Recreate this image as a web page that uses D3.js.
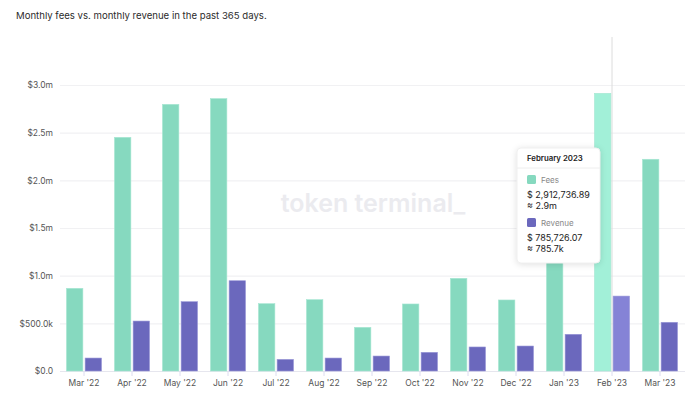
<!DOCTYPE html>
<head>
    <meta charset="utf-8">
    <title>Monthly fees vs. monthly revenue</title>
    <style>
        body { margin: 0; background: #fff; }
        svg text { font-family: Inter, "Noto Sans", sans-serif; }
        .tick text { fill: #555; font-size: 8.5px; }
    </style>
</head>
<body>
<svg width="700" height="395"></svg>

<script src="https://d3js.org/d3.v7.min.js"></script>
<script>

    var months = ["Mar '22", "Apr '22", "May '22", "Jun '22", "Jul '22", "Aug '22", "Sep '22",
        "Oct '22", "Nov '22", "Dec '22", "Jan '23", "Feb '23", "Mar '23"];
    var fees = [867000, 2451000, 2797000, 2857000, 706000, 748000, 458000,
        703000, 972000, 745000, 1300000, 2912736.89, 2221000];
    var revenue = [136000, 524000, 727000, 947000, 122000, 136000, 157000,
        196000, 252000, 262000, 385000, 785726.07, 511000];
    var yTicks = [0, 500000, 1000000, 1500000, 2000000, 2500000, 3000000];
    var yTickLabels = ["$0.0", "$500.0k", "$1.0m", "$1.5m", "$2.0m", "$2.5m", "$3.0m"];
    var series = ["fees", "revenue"];
    var hovered = "Feb '23";

    var svg = d3.select("svg");

    var data = months.map(function (m, i) {
        return {month: m, fees: fees[i], revenue: revenue[i]};
    });

    var x0 = d3.scaleBand()
        .domain(months)
        .range([60, 684])
        .paddingInner(0.27)
        .paddingOuter(0.135);

    var x1 = d3.scaleBand()
        .domain(series)
        .range([0, x0.bandwidth()])
        .paddingInner(0.12);

    var y = d3.scaleLinear()
        .domain([0, 3000000])
        .range([371, 85]);

    var color = {fees: "#86d9bf", revenue: "#6b68bd"};
    var hoverColor = {fees: "#a2f0d8", revenue: "#8583d6"};
    var strokeColor = {fees: "#a6e6d2", revenue: "#9a98d8"};

    // title
    svg.append("text")
        .attr("x", 16)
        .attr("y", 19)
        .attr("fill", "#2b2b2b")
        .attr("font-size", "9.6px")
        .text("Monthly fees vs. monthly revenue in the past 365 days.");

    // watermark
    svg.append("text")
        .attr("x", 373)
        .attr("y", 212)
        .attr("text-anchor", "middle")
        .attr("fill", "#ebebef")
        .attr("font-size", "25px")
        .attr("font-weight", "600")
        .text("token terminal_");

    // grid + y axis
    var yAxis = svg.append("g")
        .attr("transform", "translate(60,0)")
        .call(d3.axisLeft(y)
            .tickValues(yTicks)
            .tickSize(-625)
            .tickPadding(7)
            .tickFormat(function (d, i) { return yTickLabels[i]; }));
    yAxis.select(".domain").remove();
    yAxis.selectAll(".tick line")
        .attr("stroke", function (d) { return d === 0 ? "#e6e6ee" : "#f1f1f3"; })
        .attr("stroke-width", 1.2);

    // hover line
    svg.append("line")
        .attr("x1", x0(hovered) + x0.bandwidth() / 2)
        .attr("x2", x0(hovered) + x0.bandwidth() / 2)
        .attr("y1", 37)
        .attr("y2", 371)
        .attr("stroke", "#dcdcdc")
        .attr("stroke-width", 1);

    // bars
    var groups = svg.append("g")
        .selectAll("g")
        .data(data)
        .enter().append("g")
        .attr("transform", function (d) { return "translate(" + x0(d.month) + ",0)"; });

    groups.selectAll("rect")
        .data(function (d) {
            return series.map(function (s) { return {key: s, value: d[s], month: d.month}; });
        })
        .enter().append("rect")
        .attr("x", function (d) { return x1(d.key); })
        .attr("width", x1.bandwidth())
        .attr("y", function (d) { return y(d.value); })
        .attr("height", function (d) { return y(0) - y(d.value); })
        .attr("fill", function (d) { return d.month === hovered ? hoverColor[d.key] : color[d.key]; })
        .attr("stroke", function (d) { return strokeColor[d.key]; })
        .attr("stroke-width", 0.6);

    // x axis
    var xAxis = svg.append("g")
        .attr("transform", "translate(0,371)")
        .call(d3.axisBottom(x0)
            .tickSize(5)
            .tickPadding(4));
    xAxis.select(".domain").remove();
    xAxis.selectAll(".tick line").attr("stroke", "#dcdcf0");
    svg.selectAll("g").attr("font-family", null);

    // tooltip
    var tip = svg.append("g").attr("transform", "translate(517,148)");
    tip.append("rect")
        .attr("width", 83)
        .attr("height", 115)
        .attr("rx", 4)
        .attr("fill", "#fff")
        .attr("stroke", "#f0f0f0")
        .style("filter", "drop-shadow(0px 1px 3px rgba(0,0,0,0.12))");
    tip.append("text")
        .attr("x", 10).attr("y", 13)
        .attr("font-size", "7.8px")
        .attr("font-weight", "600")
        .attr("fill", "#222")
        .text("February 2023");
    tip.append("line")
        .attr("x1", 0).attr("x2", 83)
        .attr("y1", 20).attr("y2", 20)
        .attr("stroke", "#eeeeee");

    var tipRows = [
        {key: "fees", label: "Fees", full: "$ 2,912,736.89", short: "≈ 2.9m", y: 27},
        {key: "revenue", label: "Revenue", full: "$ 785,726.07", short: "≈ 785.7k", y: 70}
    ];
    tipRows.forEach(function (r) {
        tip.append("rect")
            .attr("x", 10).attr("y", r.y)
            .attr("width", 9).attr("height", 9)
            .attr("rx", 1.5)
            .attr("fill", color[r.key]);
        tip.append("text")
            .attr("x", 24).attr("y", r.y + 8)
            .attr("font-size", "8px")
            .attr("fill", "#888")
            .text(r.label);
        tip.append("text")
            .attr("x", 10).attr("y", r.y + 23)
            .attr("font-size", "9px")
            .attr("fill", "#222")
            .text(r.full);
        tip.append("text")
            .attr("x", 10).attr("y", r.y + 34)
            .attr("font-size", "9px")
            .attr("fill", "#222")
            .text(r.short);
    });

</script>
</body>
